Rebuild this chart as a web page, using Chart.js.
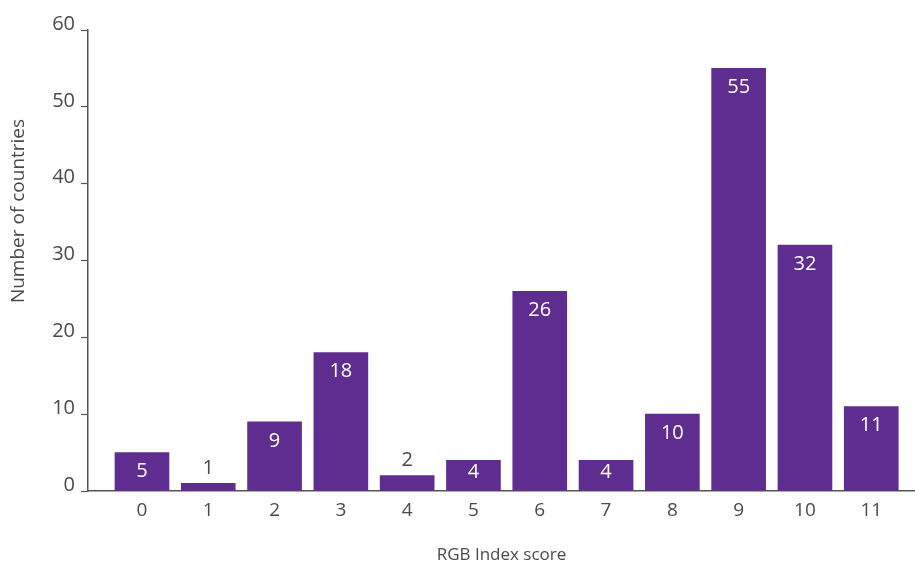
<!DOCTYPE html>
<html>
<head>
<meta charset="utf-8">
<script src="https://cdn.jsdelivr.net/npm/chart.js@4.4.0/dist/chart.umd.min.js"></script>
<style>
  html, body { margin: 0; padding: 0; background: #fff; }
  #wrap { width: 915px; height: 565px; position: relative; }
</style>
</head>
<body>
<div id="wrap"><canvas id="c"></canvas></div>
<script>
const categories = [0, 1, 2, 3, 4, 5, 6, 7, 8, 9, 10, 11];
const counts = [5, 1, 9, 18, 2, 4, 26, 4, 10, 55, 32, 11];
const yTicks = [0, 10, 20, 30, 40, 50, 60];
const xTitle = 'RGB Index score';
const yTitle = 'Number of countries';

const FONT = '"Open Sans", "Noto Sans", sans-serif';
const BAR = '#5f2d8f';
const TXT = '#4a4a4a';

const valueLabels = {
  id: 'valueLabels',
  afterDatasetsDraw(chart) {
    const ctx = chart.ctx;
    const meta = chart.getDatasetMeta(0);
    ctx.save();
    ctx.font = '20px ' + FONT;
    ctx.textAlign = 'center';
    ctx.textBaseline = 'middle';
    meta.data.forEach((el, i) => {
      const top = el.y, bottom = el.base;
      const h = bottom - top;
      let y, color;
      if (h < 24) { y = top - 15; color = TXT; }
      else { y = Math.min(top + 19, bottom - 18); color = '#ffffff'; }
      ctx.fillStyle = color;
      ctx.fillText(String(counts[i]), el.x, y);
    });
    ctx.restore();
  }
};

const yTitlePlugin = {
  id: 'yTitlePlugin',
  afterDraw(chart) {
    const ctx = chart.ctx;
    ctx.save();
    ctx.font = '19px ' + FONT;
    ctx.fillStyle = TXT;
    ctx.textAlign = 'center';
    ctx.textBaseline = 'middle';
    ctx.translate(19, 211);
    ctx.rotate(-Math.PI / 2);
    ctx.fillText(yTitle, 0, 0);
    ctx.restore();
  }
};

new Chart(document.getElementById('c'), {
  type: 'bar',
  data: {
    datasets: [{
      data: categories.map((c, i) => ({ x: c, y: counts[i] })),
      backgroundColor: BAR,
      borderWidth: 0,
      barThickness: 54
    }]
  },
  options: {
    responsive: true,
    maintainAspectRatio: false,
    animation: false,
    layout: { padding: { top: 30, right: 0, left: 0, bottom: 0 } },
    plugins: { legend: { display: false }, tooltip: { enabled: false } },
    scales: {
      x: {
        type: 'linear',
        offset: false,
        bounds: 'data',
        min: -0.814,
        max: 11.66,
        afterBuildTicks(scale) { scale.ticks = categories.map(v => ({ value: v })); },
        afterFit(scale) { scale.height = 74; },
        grid: { display: true, offset: false, drawOnChartArea: false, drawTicks: false },
        border: { display: true, color: '#555', width: 1.5 },
        ticks: {
          font: { size: 19, family: FONT },
          color: TXT,
          padding: 8,
          maxRotation: 0,
          autoSkip: false,
          callback: v => String(v)
        },
        title: {
          display: true,
          text: xTitle,
          font: { size: 17, family: FONT },
          color: TXT,
          padding: { top: 14, bottom: 0 }
        }
      },
      y: {
        min: 0,
        max: 60,
        afterBuildTicks(scale) { scale.ticks = yTicks.map(v => ({ value: v })); },
        afterFit(scale) { scale.width = 88; },
        grid: { display: true, drawOnChartArea: false, drawTicks: true, tickLength: 7, color: '#555', tickWidth: 1.2 },
        border: { display: true, color: '#555', width: 1.5 },
        ticks: {
          font: { size: 20, family: FONT },
          color: TXT,
          padding: 6,
          labelOffset: -6
        }
      }
    }
  },
  plugins: [valueLabels, yTitlePlugin]
});
</script>
</body>
</html>
